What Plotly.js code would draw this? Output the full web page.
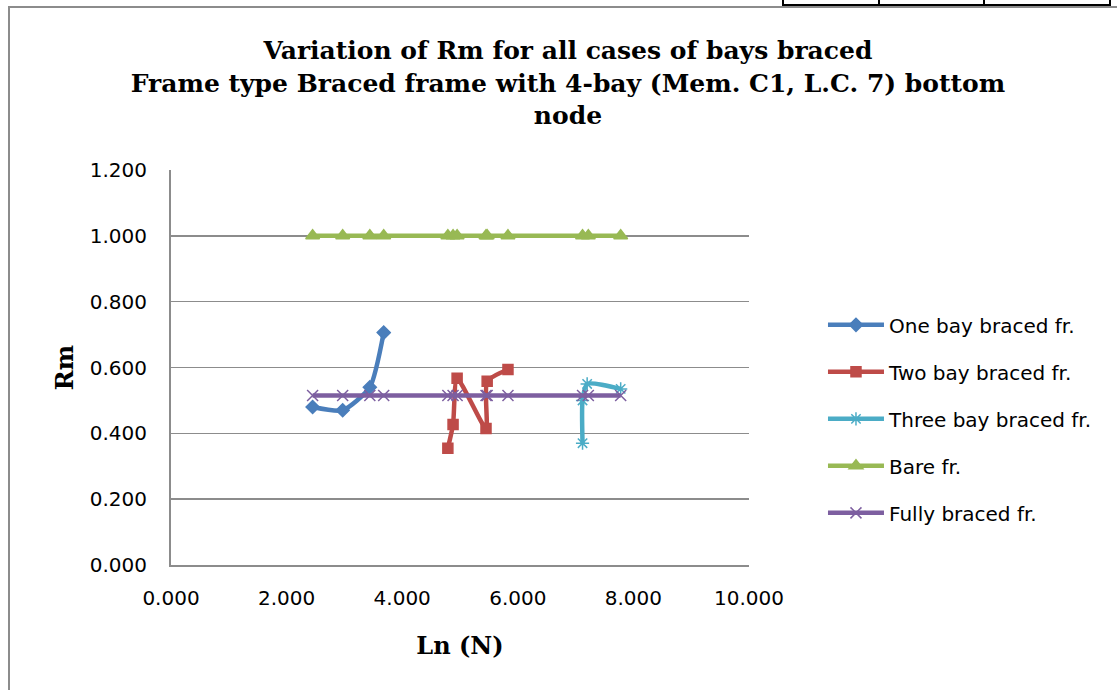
<!DOCTYPE html>
<html>
<head>
<meta charset="utf-8">
<script src="https://cdn.plot.ly/plotly-3.0.1.min.js"></script>
<style>
html,body{margin:0;padding:0;background:#fff;}
#wrap{position:relative;width:1117px;height:690px;}
#chart{position:absolute;left:0;top:0;width:1117px;height:690px;}
.frm{position:absolute;background:#8c8c8c;}
.tbl{position:absolute;background:#000;}
</style>
</head>
<body>
<div id="wrap">
<div id="chart"></div>
<div class="frm" style="left:8px;top:6px;width:1109px;height:2px;"></div>
<div class="frm" style="left:8px;top:6px;width:2px;height:684px;"></div>
<div class="tbl" style="left:782px;top:4px;width:329px;height:2px;"></div>
<div class="tbl" style="left:782px;top:0px;width:2px;height:6px;"></div>
<div class="tbl" style="left:878px;top:0px;width:2px;height:6px;"></div>
<div class="tbl" style="left:983px;top:0px;width:2px;height:6px;"></div>
<div class="tbl" style="left:1109px;top:0px;width:2px;height:6px;"></div>
</div>
<script>
// Data
const oneX = [2.45, 2.97, 3.44, 3.68];
const oneY = [0.480, 0.470, 0.540, 0.706];
const twoX = [4.79, 4.88, 4.95, 5.45, 5.47, 5.83];
const twoY = [0.355, 0.427, 0.567, 0.415, 0.558, 0.594];
const threeX = [7.12, 7.12, 7.20, 7.78];
const threeY = [0.370, 0.500, 0.550, 0.535];
const bareX = [2.45, 2.97, 3.44, 3.68, 4.79, 4.88, 4.95, 5.45, 5.47, 5.83, 7.12, 7.22, 7.78];
const bareY = [1.000, 1.000, 1.000, 1.000, 1.000, 1.000, 1.000, 1.000, 1.000, 1.000, 1.000, 1.000, 1.000];
const fullX = [2.45, 2.97, 3.44, 3.68, 4.79, 4.88, 4.95, 5.45, 5.47, 5.83, 7.12, 7.22, 7.78];
const fullY = [0.515, 0.515, 0.515, 0.515, 0.515, 0.515, 0.515, 0.515, 0.515, 0.515, 0.515, 0.515, 0.515];
const names = ["One bay braced fr.", "Two bay braced fr.", "Three bay braced fr.", "Bare fr.", "Fully braced fr."];
const colors = ["#4a7ebb", "#be4b48", "#4bacc6", "#98b954", "#7d5fa0"];
const yTicks = [0, 0.2, 0.4, 0.6, 0.8, 1.0, 1.2];
const yTickText = ["0.000", "0.200", "0.400", "0.600", "0.800", "1.000", "1.200"];
const xTicks = [0, 2, 4, 6, 8, 10];
const xTickText = ["0.000", "2.000", "4.000", "6.000", "8.000", "10.000"];

function tr(x, y, i, sym, size) {
  return {
    x: x, y: y, name: names[i], type: 'scatter', mode: 'lines+markers',
    legendgroup: 'g' + i,
    line: {color: colors[i], width: 4.5, shape: 'spline', smoothing: 0.6},
    marker: {symbol: sym, size: size, color: colors[i], line: {color: colors[i], width: 1.5}}
  };
}
const data = [
  tr(oneX, oneY, 0, 'diamond', 10),
  tr(twoX, twoY, 1, 'square', 10),
  tr(threeX, threeY, 2, 'asterisk-open', 11),
  tr(bareX, bareY, 3, 'triangle-up', 12),
  tr(fullX, fullY, 4, 'x-thin-open', 11)
];
data[4].line.shape = 'linear';
data[3].line.shape = 'linear';

const tickFont = {family: 'DejaVu Sans', size: 20, color: '#000'};
const layout = {
  width: 1117, height: 690,
  margin: {l: 171, r: 368, t: 170, b: 125},
  paper_bgcolor: '#ffffff', plot_bgcolor: '#ffffff',
  title: {
    text: '<b>Variation of Rm for all cases of bays braced<br>Frame type Braced frame with 4-bay (Mem. C1, L.C. 7) bottom<br>node</b>',
    font: {family: 'DejaVu Serif', size: 25, color: '#000'},
    xref: 'container', x: 0.5085, xanchor: 'center',
    yref: 'container', y: 0.914, yanchor: 'middle'
  },
  xaxis: {
    range: [0, 10], tickvals: xTicks, ticktext: xTickText,
    showgrid: false, zeroline: false, showline: true, linecolor: '#8c8c8c', linewidth: 2,
    ticks: '', tickfont: tickFont, ticklabelstandoff: 14,
    title: {text: '<b>Ln (N)</b>', font: {family: 'DejaVu Serif', size: 24, color: '#000'}, standoff: 28}
  },
  yaxis: {
    range: [0, 1.2], tickvals: yTicks, ticktext: yTickText,
    showgrid: true, gridcolor: '#8c8c8c', gridwidth: 1.5, zeroline: false,
    showline: true, linecolor: '#8c8c8c', linewidth: 2,
    ticks: '', tickfont: tickFont, ticklabelstandoff: 18,
    title: {text: '<b>Rm</b>', font: {family: 'DejaVu Serif', size: 24, color: '#000'}, standoff: 9}
  },
  legend: {
    x: 1.128, xanchor: 'left', y: 0.37, yanchor: 'middle',
    font: {family: 'DejaVu Sans', size: 20, color: '#000'},
    tracegroupgap: 18, itemwidth: 56
  },
  showlegend: true
};
Plotly.newPlot('chart', data, layout, {displayModeBar: false, staticPlot: true});
</script>
</body>
</html>
